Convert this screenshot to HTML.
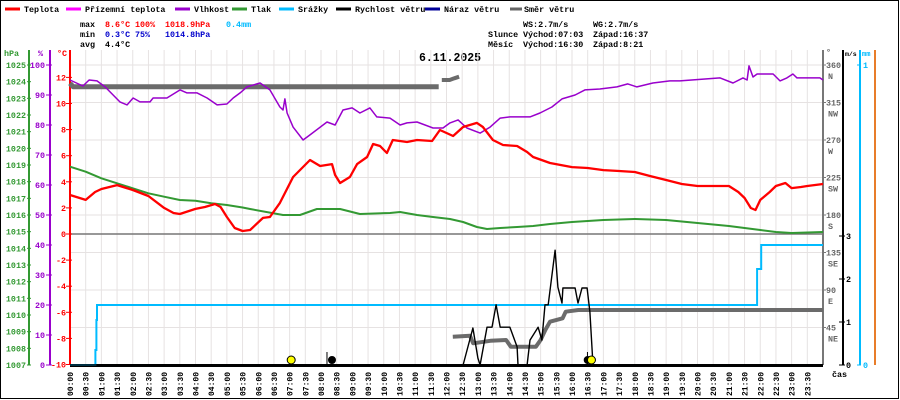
<!DOCTYPE html>
<html><head><meta charset="utf-8"><style>
html,body{margin:0;padding:0;background:#fff;width:900px;height:400px;overflow:hidden}
svg{display:block;font-family:"Liberation Mono","DejaVu Sans Mono",monospace;font-weight:bold}
</style></head><body>
<svg id="chart" width="900" height="400" viewBox="0 0 900 400" xmlns="http://www.w3.org/2000/svg">
<rect x="0.5" y="0.5" width="898" height="398" fill="#fff" stroke="#000"/>
<g font-size="8.4">
 <g><line x1="5" y1="9" x2="20" y2="9" stroke="#f00" stroke-width="3"/><text x="24" y="12">Teplota</text></g>
 <g><line x1="66" y1="9" x2="81" y2="9" stroke="#f0f" stroke-width="3"/><text x="85" y="12">Přízemní teplota</text></g>
 <g><line x1="175" y1="9" x2="190" y2="9" stroke="#90c" stroke-width="3"/><text x="194" y="12">Vlhkost</text></g>
 <g><line x1="232" y1="9" x2="247" y2="9" stroke="#393" stroke-width="3"/><text x="251" y="12">Tlak</text></g>
 <g><line x1="279" y1="9" x2="294" y2="9" stroke="#0bf" stroke-width="3"/><text x="298" y="12">Srážky</text></g>
 <g><line x1="336" y1="9" x2="351" y2="9" stroke="#000" stroke-width="3"/><text x="355" y="12">Rychlost větru</text></g>
 <g><line x1="425" y1="9" x2="440" y2="9" stroke="#009" stroke-width="3"/><text x="444" y="12">Náraz větru</text></g>
 <g><line x1="510" y1="9" x2="522" y2="9" stroke="#666" stroke-width="3"/><text x="524" y="12">Směr větru</text></g>
</g>
<g font-size="8.4">
 <text x="80" y="27">max</text><text x="105" y="27" fill="#f00">8.6°C</text><text x="135" y="27" fill="#f00">100%</text><text x="165" y="27" fill="#f00">1018.9hPa</text><text x="226" y="27" fill="#0bf">0.4mm</text>
 <text x="80" y="37">min</text><text x="105" y="37" fill="#00c">0.3°C</text><text x="135" y="37" fill="#00c">75%</text><text x="165" y="37" fill="#00c">1014.8hPa</text>
 <text x="80" y="47">avg</text><text x="105" y="47">4.4°C</text>
 <text x="523" y="27">WS:2.7m/s</text><text x="593" y="27">WG:2.7m/s</text>
 <text x="488" y="37">Slunce</text><text x="523" y="37">Východ:07:03</text><text x="593" y="37">Západ:16:37</text>
 <text x="488" y="47">Měsíc</text><text x="523" y="47">Východ:16:30</text><text x="593" y="47">Západ:8:21</text>
</g>
<text x="450" y="61" font-size="11.5" text-anchor="middle">6.11.2025</text>
<g id="grid"></g>
<g id="axes" font-size="8.4"></g>
<g id="series"></g>
<g id="xaxis" font-size="8"></g>
</svg>
<script>
// ---- data ----
const tempTimes = [0,0.5,0.8,1.0,1.5,2.0,2.5,3.0,3.3,3.5,4.0,4.3,4.62,4.8,5.0,5.25,5.5,5.74,6.15,6.37,6.69,7.11,7.65,7.97,8.35,8.45,8.61,8.92,9.15,9.47,9.66,9.88,10.10,10.29,10.74,11.06,11.54,11.79,12.21,12.53,12.97,13.16,13.48,13.80,14.25,14.57,14.76,15.30,16,16.5,17,17.5,18,18.5,19,19.5,20,20.5,21,21.3,21.5,21.7,21.85,22,22.3,22.5,22.8,23,23.3,23.5,24];
const tempValues = [2.99,2.61,3.22,3.45,3.75,3.37,2.91,2.0,1.61,1.53,1.92,2.07,2.30,2.07,1.30,0.46,0.23,0.31,1.23,1.30,2.38,4.37,5.67,5.21,5.36,4.52,3.91,4.37,5.36,5.90,6.90,6.74,6.21,7.20,7.05,7.20,7.13,7.97,7.51,8.20,8.51,8.20,7.20,6.82,6.74,6.28,5.90,5.44,5.13,5.06,4.90,4.83,4.75,4.44,4.14,3.83,3.68,3.68,3.68,3.22,2.76,1.99,1.84,2.61,3.22,3.68,3.91,3.52,3.60,3.68,3.83];
const humTimes = [0,0.41,0.61,0.86,1.12,1.59,1.82,2.01,2.23,2.55,2.65,3.09,3.51,3.73,4.05,4.37,4.69,5.00,5.20,5.42,5.64,5.96,6.06,6.37,6.69,6.79,6.85,6.92,7.11,7.43,7.65,8.19,8.45,8.70,8.99,9.24,9.56,9.78,10.20,10.52,10.74,11.06,11.57,11.89,12.11,12.37,12.65,13.07,13.39,13.71,14.02,14.66,14.98,15.36,15.68,16.10,16.41,16.89,17.43,17.78,18.07,18.58,19.12,19.44,20.72,21.13,21.45,21.58,21.64,21.77,21.90,22.41,22.63,22.85,23.04,23.17,23.90,24];
const humValues = [95,93,95,94.7,92.7,87.7,86.7,89,87.7,87.7,89,89,91.7,90.7,90.7,89,86.7,87,89,90.7,92.7,93.7,94,91.7,86,85,88.7,84,79.3,75,76.7,81,80,85,85.7,84,85.7,82.7,82.3,80,80.7,81,79,79,80.7,81.7,79,77.3,79.3,82.3,82.7,82.7,84,86,88.7,90,91.7,92,92.7,93.7,92.7,94,94.7,94.7,95.7,94,95.7,95,99.7,96,97,97,94.7,95.7,97,95.7,95.7,95];
const presTimes = [0,0.5,1,1.5,2,2.5,3,3.5,4,4.5,5,5.5,5.74,6.79,7.33,7.87,8.61,9.24,10.20,10.52,11.06,11.57,12.11,12.53,12.97,13.29,13.71,14.25,14.76,15.30,16,17,18,19,20,21,21.5,22,22.5,23,24];
const presValues = [1018.9,1018.6,1018.2,1017.9,1017.6,1017.3,1017.1,1016.9,1016.85,1016.7,1016.6,1016.45,1016.36,1016.0,1016.0,1016.36,1016.36,1016.06,1016.12,1016.18,1016.0,1015.88,1015.76,1015.58,1015.28,1015.16,1015.22,1015.28,1015.34,1015.46,1015.58,1015.7,1015.76,1015.7,1015.52,1015.34,1015.22,1015.1,1014.98,1014.92,1014.98];
const rainTimes = [0,0.8,0.81,0.84,0.86,21.88,21.9,22.0,22.03,24];
const rainValues = [0,0,0.05,0.15,0.2,0.2,0.32,0.32,0.4,0.4];
const windTimes = [0,12.53,12.84,13.0,13.07,13.29,13.45,13.58,13.71,14.02,14.25,14.28,14.57,14.66,14.92,15.04,15.14,15.24,15.46,15.55,15.68,15.71,16.10,16.19,16.32,16.48,16.57,16.67,24];
const windValues = [0,0,0.86,0.16,0,0.88,0.88,1.4,0.88,0.88,0.42,0,0,0.58,0.88,0.58,1.4,1.4,2.67,1.81,1.44,1.79,1.79,1.44,1.79,1.79,1.23,0,0];
const dirTimesA = [0,0.1,11.75];
const dirValuesA = [338,334,334];
const dirTimesB = [11.85,12.1,12.25,12.4];
const dirValuesB = [342,342,344,346];
const dirTimesC = [12.2,12.75,12.85,13.4,13.9,14.05,14.85,15.0,15.15,15.3,15.7,15.8,16.2,24];
const dirValuesC = [34,35,26,29,30,22,22,30,42,52,56,64,66,66];
const astroTimes = [7.05,8.35,16.5,16.62];
const astroKinds = ['sunrise','moonset','moonrise','sunset'];
const hpaTicks = [1007,1008,1009,1010,1011,1012,1013,1014,1015,1016,1017,1018,1019,1020,1021,1022,1023,1024,1025];
const humTicks = [0,10,20,30,40,50,60,70,80,90,100];
const tempTicks = [-10,-8,-6,-4,-2,0,2,4,6,8,10,12];
const dirTicks = [45,90,135,180,225,270,315,360];
const dirNames = ['NE','E','SE','S','SW','W','NW','N'];
const windTicks = [0,1,2,3];
const rainTicks = [0,1];

// ---- scales ----
const X0=70,X1=823,YT=50,YB=365;
const xS=h=>X0+h*(X1-X0)/24;
const yT=v=>234-v*13.05;
const yH=v=>YB-v*3;
const yP=v=>YB-(v-1007)*(300/18);
const yD=v=>YB-v*(300/360);
const yW=v=>YB-v*43;
const yR=v=>YB-v*300;
const NS='http://www.w3.org/2000/svg';
function mk(tag,attrs,parent){const e=document.createElementNS(NS,tag);for(const k in attrs)e.setAttribute(k,attrs[k]);parent.appendChild(e);return e;}
const grid=document.getElementById('grid'),axes=document.getElementById('axes'),ser=document.getElementById('series'),xa=document.getElementById('xaxis');

for(let i=0;i<=48;i++){const x=xS(i/2);const l=mk('line',{x1:x,y1:YT,x2:x,y2:YB,stroke:'#e6e2e2','stroke-width':1},grid);

}
for(let k=1;k<=8;k++){const y=YB-37.5*k;const l=mk('line',{x1:X0,y1:y,x2:X1,y2:y,stroke:'#e6e2e2','stroke-width':1},grid);

}
const zl=mk('line',{x1:X0,y1:yT(0),x2:X1,y2:yT(0),stroke:'#777','stroke-width':1.5},grid);



function axis(x,color,name){const l=mk('line',{x1:x,y1:YT,x2:x,y2:YB,stroke:color,'stroke-width':2},axes);

}
axis(29,'#393','pressure-axis');axis(50,'#90c','humidity-axis');axis(70,'#f00','temperature-axis');
axis(X1,'#777','direction-axis');axis(843,'#000','wind-axis');axis(860,'#0bf','rain-axis');axis(875,'#e87d2a','right-border-axis');
function lbl(x,y,t,c,anchor,name){const e=mk('text',{x:x,y:y,fill:c,'text-anchor':anchor},axes);e.textContent=t;

return e;}
lbl(4,56,'hPa','#393','start','pressure-axis-title');lbl(38,56,'%','#90c','start','humidity-axis-title');lbl(57,56,'°C','#f00','start','temperature-axis-title');
lbl(826,55,'°','#666','start','direction-axis-title');
const ms=lbl(845,56,'m/s','#000','start','wind-axis-title');ms.setAttribute('font-size','6.5');
const mmT=lbl(862,56,'mm','#0bf','start','rain-axis-title');mmT.setAttribute('font-size','7');
hpaTicks.forEach(v=>{const y=yP(v);lbl(26,y+3,String(v),'#393','end','pressure-tick-label');mk('line',{x1:27,y1:y,x2:31,y2:y,stroke:'#393'},axes);});
humTicks.forEach(v=>{const y=yH(v);lbl(45,y+3,String(v),'#90c','end','humidity-tick-label');mk('line',{x1:46,y1:y,x2:52,y2:y,stroke:'#90c'},axes);});
tempTicks.forEach(v=>{const y=yT(v);lbl(66,y+3,String(v),'#f00','end','temperature-tick-label');mk('line',{x1:66,y1:y,x2:72,y2:y,stroke:'#f00'},axes);});
dirTicks.forEach((v,i)=>{const y=yD(v);mk('line',{x1:X1,y1:y,x2:X1+3,y2:y,stroke:'#777'},axes);lbl(826,y+3,String(v),'#666','start','direction-tick-label');lbl(828,y+14,dirNames[i],'#666','start','direction-name-label');});
windTicks.forEach(v=>{const y=yW(v);mk('line',{x1:839,y1:y,x2:845,y2:y,stroke:'#000'},axes);lbl(846,y+3,String(v),'#000','start','wind-tick-label');});
rainTicks.forEach(v=>{const y=yR(v);mk('line',{x1:857,y1:y,x2:861,y2:y,stroke:'#0bf'},axes);lbl(863,y+3,String(v),'#0bf','start','rain-tick-label');});

function line(ts,vs,ys,color,w,name){const pts=ts.map((t,i)=>xS(t).toFixed(1)+','+ys(vs[i]).toFixed(1)).join(' ');
const p=mk('polyline',{points:pts,fill:'none',stroke:color,'stroke-width':w,'stroke-linejoin':'round'},ser);

}
function stepline(ts,vs,ys,color,w,name){let pts=[];ts.forEach((t,i)=>{if(i>0)pts.push(xS(t).toFixed(1)+','+ys(vs[i-1]).toFixed(1));pts.push(xS(t).toFixed(1)+','+ys(vs[i]).toFixed(1));});
const p=mk('polyline',{points:pts.join(' '),fill:'none',stroke:color,'stroke-width':w},ser);

}
line(presTimes,presValues,yP,'#393',2,'pressure-line');
line(dirTimesA,dirValuesA,yD,'#6b6b6b',5,'wind-direction-series-a');
line(dirTimesB,dirValuesB,yD,'#6b6b6b',4,'wind-direction-series-b');
line(dirTimesC,dirValuesC,yD,'#6b6b6b',4,'wind-direction-series-c');
stepline(rainTimes,rainValues,yR,'#0bf',2,'precipitation-line');
line(humTimes,humValues,yH,'#90c',1.5,'humidity-line');
line(tempTimes,tempValues,yT,'#f00',2.3,'temperature-line');
line(windTimes,windValues,yW,'#000',1.4,'wind-speed-line');
const base=mk('line',{x1:X0,y1:YB+0.5,x2:X1,y2:YB+0.5,stroke:'#000','stroke-width':3},axes);



astroTimes.forEach((t,i)=>{const k=astroKinds[i];const c=mk('circle',{cx:xS(t),cy:360,r:k.startsWith('sun')?4:3.5,fill:k.startsWith('sun')?'#ff0':'#000',stroke:'#000','stroke-width':1},ser);


if(k==='moonset'||k==='sunset'){const a=mk('line',{x1:xS(t)-(k==='moonset'?5:4),y1:352,x2:xS(t)-(k==='moonset'?5:4),y2:364,stroke:'#000','stroke-width':1},ser);

}});

for(let i=0;i<48;i++){const h=Math.floor(i/2),m=i%2?'30':'00';const x=xS(i/2);
const t=mk('text',{x:0,y:0,transform:'translate('+(x+3)+',396) rotate(-90)'},xa);t.textContent=(h<10?'0':'')+h+':'+m;

}
const cas=mk('text',{x:832,y:377,'font-size':8.4},xa);cas.textContent='čas';


</script>
</body></html>
